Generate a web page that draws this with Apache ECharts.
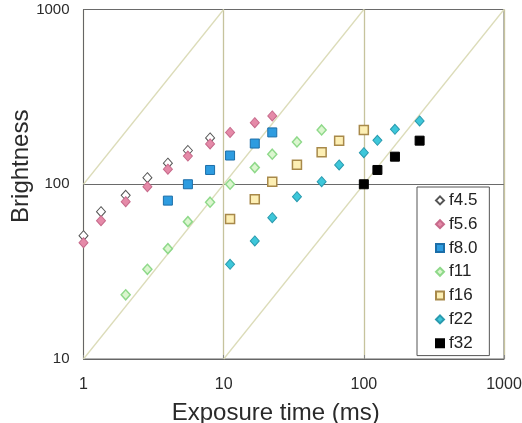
<!DOCTYPE html>
<html>
<head>
<meta charset="utf-8">
<script src="https://cdn.jsdelivr.net/npm/echarts@6/dist/echarts.min.js"></script>
<style>
html,body{margin:0;padding:0;background:#fff;}
#chart{width:522px;height:423px;}
</style>
</head>
<body>
<div id="chart"></div>
<script>
// ---- data ----
const seriesNames = ['f4.5', 'f5.6', 'f8.0', 'f11', 'f16', 'f22', 'f32'];

const timeF45 = [1, 1.333, 2, 2.857, 4, 5.556, 8];
const brightF45 = [50.8, 69.7, 86.5, 109, 132, 156, 184];

const timeF56 = [1, 1.333, 2, 2.857, 4, 5.556, 8, 11.11, 16.67, 22.22];
const brightF56 = [46.3, 61.9, 79.5, 96.9, 122, 145, 170, 198, 225, 246];

const timeF80 = [4, 5.556, 8, 11.11, 16.67, 22.22];
const brightF80 = [80.6, 100, 120.7, 146, 171, 198];

const timeF11 = [2, 2.857, 4, 5.556, 8, 11.11, 16.67, 22.22, 33.33, 50];
const brightF11 = [23.3, 32.6, 42.8, 61.1, 78.9, 100, 124.5, 148.5, 174.6, 204.5];

const timeF16 = [11.11, 16.67, 22.22, 33.33, 50, 66.67, 100];
const brightF16 = [63.3, 82.1, 103.5, 129.4, 152.4, 177.6, 204.5];

const timeF22 = [11.11, 16.67, 22.22, 33.33, 50, 66.67, 100, 125, 166.7, 250];
const brightF22 = [34.8, 47.4, 64.4, 84.9, 103.5, 129, 151.6, 178.5, 206.4, 230.3];

const timeF32 = [100, 125, 166.7, 250];
const brightF32 = [100, 120.7, 143.8, 177.6];

// reference diagonals (brightness proportional to exposure time)
const refLineA = [[1, 100], [10, 1000]];
const refLineB = [[1, 10], [100, 1000]];
const refLineC = [[10, 10], [1000, 1000]];

const xTicks = [1, 10, 100, 1000];
const yTicks = [10, 100, 1000];

// ---- chart ----
const FONT = 'Liberation Sans, Arial, sans-serif';
function pairs(xs, ys) { return xs.map((x, i) => [x, ys[i]]); }
function plain(v) { return String(Math.round(v)); }

const styles = {
  'f4.5': { symbol: 'diamond', size: [9, 10], color: '#ffffff', border: '#555555', bw: 1 },
  'f5.6': { symbol: 'diamond', size: [9, 10], color: '#e58aa8', border: '#c76a8b', bw: 1 },
  'f8.0': { symbol: 'rect', size: [9, 9], color: '#2e9ce0', border: '#1c6ea8', bw: 1 },
  'f11':  { symbol: 'diamond', size: [9, 10], color: '#dbf6cf', border: '#8fd98a', bw: 1.5 },
  'f16':  { symbol: 'rect', size: [9, 9], color: '#fdefb4', border: '#a8894a', bw: 1.5 },
  'f22':  { symbol: 'diamond', size: [9, 10], color: '#3dc7da', border: '#2a9aae', bw: 1 },
  'f32':  { symbol: 'rect', size: [9, 9], color: '#000000', border: '#000000', bw: 1 }
};
const dataMap = {
  'f4.5': pairs(timeF45, brightF45),
  'f5.6': pairs(timeF56, brightF56),
  'f8.0': pairs(timeF80, brightF80),
  'f11': pairs(timeF11, brightF11),
  'f16': pairs(timeF16, brightF16),
  'f22': pairs(timeF22, brightF22),
  'f32': pairs(timeF32, brightF32)
};

const refStyle = { type: 'line', symbol: 'none', silent: true, z: 1,
  lineStyle: { color: '#dcdcb9', width: 1.3 }, animation: false };

const series = [
  Object.assign({ name: 'refA', data: refLineA }, refStyle),
  Object.assign({ name: 'refB', data: refLineB }, refStyle),
  Object.assign({ name: 'refC', data: refLineC }, refStyle)
].concat(seriesNames.map(n => {
  const s = styles[n];
  return {
    name: n, type: 'scatter', z: 3, animation: false,
    symbol: s.symbol, symbolSize: s.size,
    itemStyle: { color: s.color, borderColor: s.border, borderWidth: s.bw, opacity: 1 },
    data: dataMap[n]
  };
}));

const chart = echarts.init(document.getElementById('chart'), null, { renderer: 'canvas' });
chart.setOption({
  animation: false,
  backgroundColor: '#ffffff',
  textStyle: { fontFamily: FONT },
  grid: { left: 83.5, right: 18, top: 9.5, bottom: 64, show: true,
    containLabel: false, outerBoundsMode: 'none',
    borderColor: '#666666', borderWidth: 1, backgroundColor: 'transparent' },
  xAxis: {
    type: 'log', logBase: 10, min: xTicks[0], max: xTicks[xTicks.length - 1],
    name: 'Exposure time (ms)', nameLocation: 'middle', nameGap: 42, nameMoveOverlap: false,
    nameTextStyle: { fontSize: 24, color: '#2a2a2a', fontFamily: FONT, padding: [0, 36, 0, 0] },
    axisLine: { show: true, lineStyle: { color: '#666666' } },
    axisTick: { show: true, inside: true, length: 4, lineStyle: { color: '#888888' } },
    axisLabel: { fontSize: 16, color: '#2a2a2a', margin: 18, fontFamily: FONT, formatter: plain },
    splitLine: { show: true, lineStyle: { color: '#c6c39d', width: 1.3 } },
    minorTick: { show: false }
  },
  yAxis: {
    type: 'log', logBase: 10, min: yTicks[0], max: yTicks[yTicks.length - 1],
    name: 'Brightness', nameLocation: 'middle', nameGap: 50, nameRotate: 90, nameMoveOverlap: false,
    nameTextStyle: { fontSize: 24, color: '#2a2a2a', fontFamily: FONT, padding: [0, 0, 0, 36] },
    axisLine: { show: true, lineStyle: { color: '#666666' } },
    axisTick: { show: false },
    axisLabel: { fontSize: 15, color: '#2a2a2a', margin: 14, fontFamily: FONT, formatter: plain },
    splitLine: { show: true, lineStyle: { color: '#6a6a6a', width: 1 } }
  },
  legend: {
    data: seriesNames, orient: 'vertical', left: 417, top: 187,
    padding: [3.4, 12, 2.4, 18], itemGap: 3.8, itemWidth: 8, itemHeight: 8,
    backgroundColor: '#ffffff', borderColor: '#555555', borderWidth: 1,
    textStyle: { fontSize: 17, lineHeight: 20, color: '#222222', fontFamily: FONT },
    selectedMode: false
  },
  series: series
});
</script>
</body>
</html>
